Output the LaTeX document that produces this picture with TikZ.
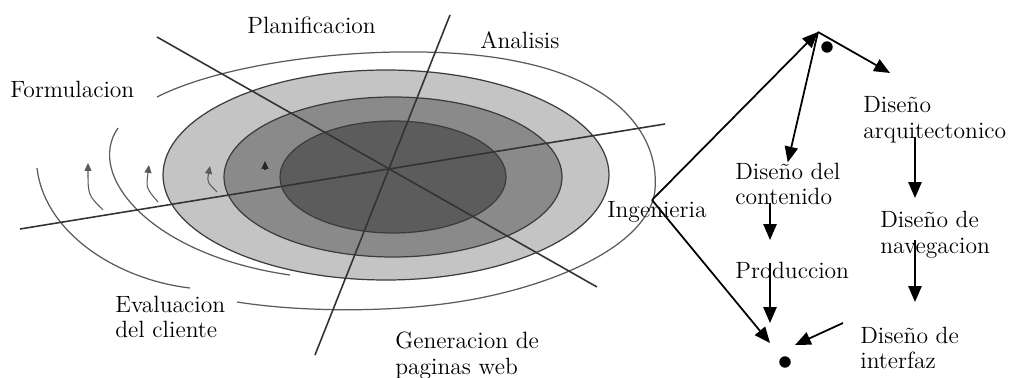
\documentclass[tikz,border=0pt]{standalone}
\usepackage{tikz}
\usetikzlibrary{arrows.meta,positioning}
\definecolor{ringA}{HTML}{C4C4C4}
\definecolor{ringB}{HTML}{8A8A8A}
\definecolor{ringC}{HTML}{5C5C5C}
\definecolor{edgeG}{HTML}{3C3C3C}
\definecolor{curveG}{HTML}{5A5A5A}

\begin{document}
\begin{tikzpicture}[x=0.02cm,y=-0.02cm,
  lbl/.style={anchor=west,inner sep=0,align=left,font=\fontsize{13.4}{14.7}\selectfont},
  ring/.style={draw=edgeG,line width=0.7pt},
  axis/.style={draw=black!80,line width=0.9pt},
  spir/.style={draw=curveG,line width=0.7pt},
  sarr/.style={draw=curveG,line width=0.6pt,-{Triangle[length=4.5pt,width=4pt]}},
  arr/.style={line width=1pt,-{Triangle[length=9pt,width=7.5pt]}},
  blob/.style={circle,fill=black,inner sep=0,minimum size=6.5pt}]
\useasboundingbox (0,0) rectangle (1018,378);

% spiral rings
\filldraw[ring,fill=ringA] (386,175) ellipse [x radius=223, y radius=105];
\filldraw[ring,fill=ringB] (393,177) ellipse [x radius=169, y radius=80];
\filldraw[ring,fill=ringC] (393,177) ellipse [x radius=113, y radius=56];

% outer curves
\draw[spir] (37,168) .. controls (45,235) and (120,280) .. (190,288);
\draw[spir] (118,128) .. controls (85,175) and (150,255) .. (290,275);
\draw[spir] (157,97) .. controls (240,55) and (420,40) .. (520,62)
  .. controls (610,80) and (660,130) .. (655,190)
  .. controls (650,240) and (570,280) .. (480,298)
  .. controls (400,314) and (300,312) .. (237,302);

% small arrows
\draw[sarr] (103,210) .. controls (88,195) .. (88,163);
\draw[sarr] (158,202) .. controls (146,188) .. (149,165);
\draw[sarr] (217,192) .. controls (207,182) .. (210,166);
\draw[sarr,draw=black!85] (265,170) -- (265,161);

% axes
\draw[axis] (157,37) -- (597,287);
\draw[axis] (450,15) -- (315,355);
\draw[axis] (20,229) -- (665,124);

% labels
\node[lbl] (plan) at (247,25) {Planificacion};
\node[lbl] (anal) at (480,40) {Analisis};
\node[lbl] (form) at (10,89) {Formulacion};
\node[lbl] (eval) at (115,317) {Evaluacion\\del cliente};
\node[lbl] (gen) at (395,356) {Generacion de\\paginas web};
\node[lbl] (ing) at (607,212) {Ingenieria};
\node[lbl] (arq) at (863,120) {Diseño\\arquitectonico};
\node[lbl] (cont) at (735,184) {Diseño del\\contenido};
\node[lbl] (prod) at (735,270) {Produccion};
\node[lbl] (nav) at (880,235) {Diseño de\\navegacion};
\node[lbl] (intf) at (860,348) {Diseño de\\interfaz};

% markers
\node[blob] (d1) at (827,47) {};
\node[blob] (d2) at (785,362) {};

% web engineering arrows
\coordinate (top) at (818,32);
\coordinate (ingpt) at (652,200);
\coordinate (bot) at (770,343);
\coordinate (arqin) at (890,73);
\coordinate (c1) at (770,203);
\coordinate (c2) at (770,240);
\coordinate (c3) at (770,263);
\coordinate (c4) at (770,323);
\coordinate (n1) at (915,137);
\coordinate (n2) at (915,198);
\coordinate (n3) at (915,240);
\coordinate (n4) at (915,302);
\coordinate (i1) at (843,323);
\coordinate (i2) at (795,345);
\draw[arr] (ingpt) -- (top);
\draw[arr] (ingpt) -- (bot);
\draw[arr] (top) -- (cont.north);
\draw[arr] (top) -- (arqin);
\draw[arr] (c1) -- (c2);
\draw[arr] (c3) -- (c4);
\draw[arr] (n1) -- (n2);
\draw[arr] (n3) -- (n4);
\draw[arr] (i1) -- (i2);
\end{tikzpicture}
\end{document}
